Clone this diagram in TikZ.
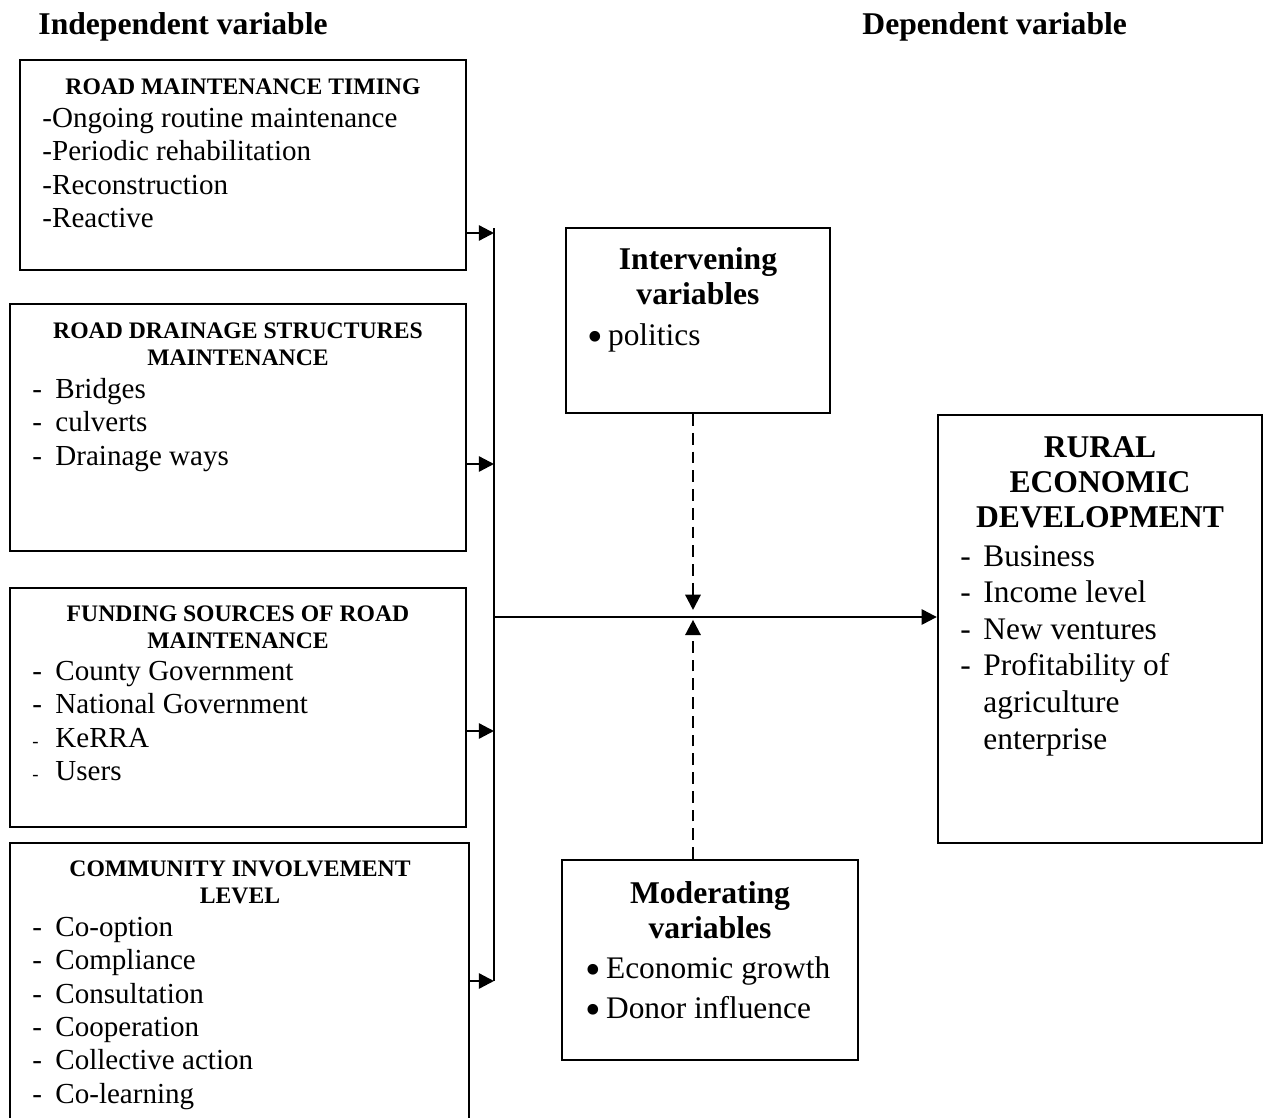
\documentclass[tikz,border=0pt]{standalone}
\usepackage{fontspec}
\setmainfont{Liberation Serif}
\usetikzlibrary{positioning,arrows.meta,fit,calc}
\tikzset{
  var-box/.style={draw,line width=1pt,inner sep=0pt},
  var-head/.style={font=\fontsize{10.1}{11.5}\selectfont\bfseries,
    align=center,inner sep=0pt,anchor=north},
  var-title/.style={font=\fontsize{13.5}{15.1}\selectfont\bfseries,
    align=center,inner sep=0pt,anchor=north},
  var-list/.style={font=\fontsize{12.4}{14.2}\selectfont,
    align=left,inner sep=0pt,anchor=north west},
  var-list-big/.style={font=\fontsize{13.4}{15.6}\selectfont,
    align=left,inner sep=0pt,anchor=north west},
  col-title/.style={font=\fontsize{13.5}{15}\selectfont\bfseries,
    inner sep=0pt,anchor=north west},
  arrow/.style={-{Triangle[length=6.5pt,width=6.5pt]},line width=1pt},
  arrow-dash/.style={arrow,dash pattern=on 5pt off 3pt},
}
\newcommand\dashitem[1]{\makebox[9.8pt][l]{-}#1}
\newcommand\smalldashitem[1]{\makebox[9.8pt][l]{\footnotesize -}#1}
\newcommand\bulletitem[1]{\makebox[8.8pt][l]{\smash{\raisebox{-2.6pt}{\fontsize{19}{19}\selectfont\textbullet}}}#1}

\begin{document}
\begin{tikzpicture}[x=0.015cm,y=-0.015cm]
  \useasboundingbox (0,0) rectangle (1270,1118);
  \clip (0,0) rectangle (1270,1118);
  % column titles
  \node[col-title] (t-ind) at (38,12) {Independent variable};
  \node[col-title] (t-dep) at (862,12) {Dependent variable};

  % independent variables
  \node[var-box,fit={(20,60)(466,270)}] (rmt) {};
  \node[var-head] (rmt-h) at (243,78) {ROAD MAINTENANCE TIMING};
  \node[var-list] (rmt-l) at (42,108) {-Ongoing routine maintenance\\
    -Periodic rehabilitation\\-Reconstruction\\-Reactive};

  \node[var-box,fit={(10,304)(466,551)}] (rds) {};
  \node[var-head] (rds-h) at (238,322) {ROAD DRAINAGE STRUCTURES\\MAINTENANCE};
  \node[var-list] (rds-l) at (32,378) {\dashitem{Bridges}\\
    \dashitem{culverts}\\\dashitem{Drainage ways}};

  \node[var-box,fit={(10,588)(466,827)}] (fsr) {};
  \node[var-head] (fsr-h) at (238,605) {FUNDING SOURCES OF ROAD\\MAINTENANCE};
  \node[var-list] (fsr-l) at (32,661) {\dashitem{County Government}\\
    \dashitem{National Government}\\\smalldashitem{KeRRA}\\\smalldashitem{Users}};

  \node[var-box,fit={(10,843)(469,1130)}] (cil) {};
  \node[var-head] (cil-h) at (240,860) {COMMUNITY INVOLVEMENT\\LEVEL};
  \node[var-list] (cil-l) at (32,917) {\dashitem{Co-option}\\
    \dashitem{Compliance}\\\dashitem{Consultation}\\\dashitem{Cooperation}\\
    \dashitem{Collective action}\\\dashitem{Co-learning}};

  % intervening and moderating variables
  \node[var-box,fit={(566,228)(830,413)}] (iv) {};
  \node[var-title] (iv-h) at (698,247) {Intervening\\variables};
  \node[var-list-big] (iv-l) at (587,323) {\bulletitem{politics}};

  \node[var-box,fit={(562,860)(858,1060)}] (mv) {};
  \node[var-title] (mv-h) at (710,881) {Moderating\\variables};
  \node[var-list-big,font=\fontsize{13.4}{17}\selectfont] (mv-l) at (585,956)
    {\bulletitem{Economic growth}\\\bulletitem{Donor influence}};

  % dependent variable
  \node[var-box,fit={(938,415)(1262,843)}] (red) {};
  \node[var-title,font=\fontsize{13.5}{14.9}\selectfont\bfseries] (red-h) at (1100,436)
    {RURAL\\ECONOMIC\\DEVELOPMENT};
  \node[var-list-big] (red-l) at (960,545) {\dashitem{Business}\\
    \dashitem{Income level}\\\dashitem{New ventures}\\
    \dashitem{Profitability of}\\\hspace*{9.8pt}agriculture\\
    \hspace*{9.8pt}enterprise};

  % connectors
  \coordinate (bus-top) at (494,228);
  \coordinate (j1) at (494,233);
  \coordinate (j2) at (494,464);
  \coordinate (j3) at (494,731);
  \coordinate (j4) at (494,981);
  \coordinate (hub) at (494,617);
  \coordinate (meet) at (693,617);
  \draw[line width=1pt] (bus-top) -- (j4);
  \draw[arrow] (rmt.east |- j1) -- (j1);
  \draw[arrow] (rds.east |- j2) -- (j2);
  \draw[arrow] (fsr.east |- j3) -- (j3);
  \draw[arrow] (cil.east |- j4) -- (j4);
  \draw[arrow] (hub) -- (hub -| red.west);
  \draw[arrow-dash] (iv.south -| meet) -- ([yshift=3pt]meet);
  \draw[arrow-dash] (mv.north -| meet) -- ([yshift=-1.2pt]meet);
\end{tikzpicture}
\end{document}
